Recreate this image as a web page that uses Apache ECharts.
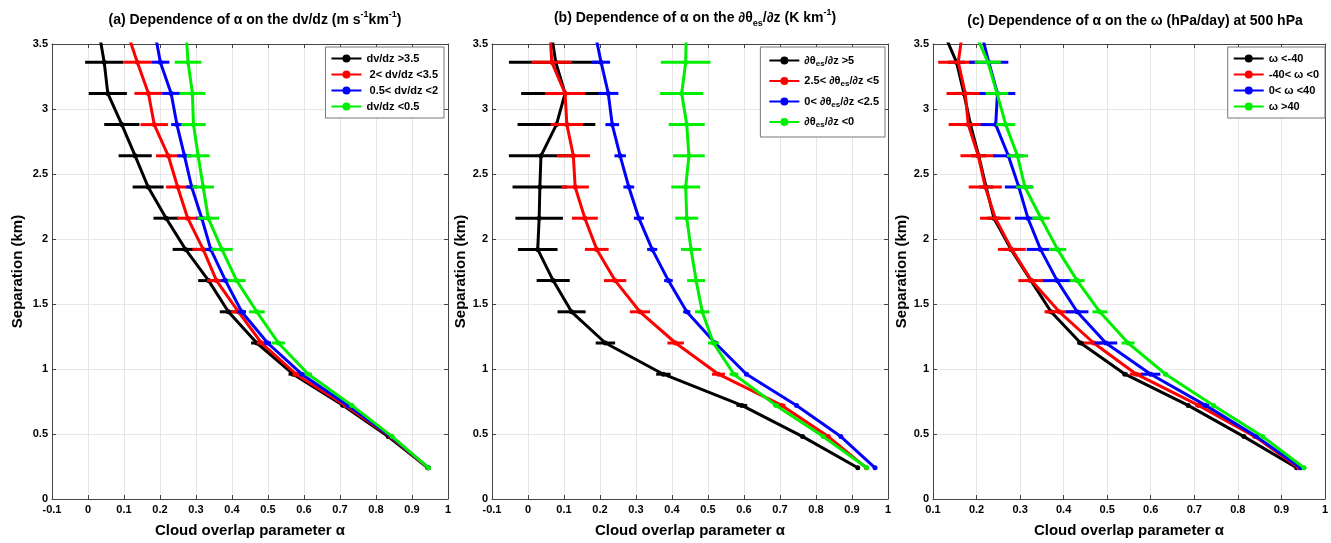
<!DOCTYPE html>
<html>
<head>
<meta charset="utf-8">
<script src="https://cdn.jsdelivr.net/npm/echarts@6/dist/echarts.min.js"></script>
<style>
html,body{margin:0;padding:0;background:#fff;}
#chart{width:1331px;height:543px;}
</style>
</head>
<body>
<div id="chart"></div>
<script>
// Separation levels (km); last level is above the plotted range (lines run off the top)
const levels = [0.24,0.48,0.72,0.96,1.2,1.44,1.68,1.92,2.16,2.4,2.64,2.88,3.12,3.36,3.6];

// Panel (a): dv/dz
const aNames = ['dv/dz >3.5',' 2< dv/dz <3.5',' 0.5< dv/dz <2','dv/dz <0.5'];
const aBlack = [0.944,0.834,0.709,0.570,0.469,0.390,0.335,0.271,0.217,0.167,0.131,0.094,0.055,0.045,0.030];
const aBlackErr = [0.003,0.005,0.008,0.013,0.016,0.024,0.029,0.036,0.035,0.043,0.046,0.049,0.053,0.053,0];
const aRed = [0.944,0.840,0.715,0.578,0.482,0.418,0.357,0.320,0.277,0.249,0.223,0.184,0.168,0.137,0.108];
const aRedErr = [0.003,0.004,0.006,0.010,0.013,0.020,0.026,0.030,0.030,0.032,0.034,0.038,0.039,0.039,0];
const aBlue = [0.946,0.842,0.722,0.594,0.499,0.427,0.382,0.341,0.316,0.288,0.268,0.247,0.231,0.201,0.185];
const aBlueErr = [0.002,0.003,0.005,0.008,0.010,0.012,0.014,0.015,0.015,0.015,0.020,0.016,0.025,0.025,0];
const aGreen = [0.946,0.845,0.733,0.612,0.529,0.469,0.413,0.372,0.334,0.320,0.306,0.293,0.290,0.278,0.272];
const aGreenErr = [0.002,0.004,0.006,0.010,0.018,0.022,0.025,0.030,0.030,0.030,0.032,0.034,0.036,0.037,0];

// Panel (b): d(theta_es)/dz
const bNames = ['∂θes/∂z >5','2.5< ∂θes/∂z <5','0< ∂θes/∂z <2.5','∂θes/∂z <0'];
const bBlack = [0.916,0.763,0.594,0.376,0.215,0.121,0.070,0.027,0.031,0.033,0.036,0.079,0.103,0.077,0.064];
const bBlackErr = [0.004,0.006,0.015,0.020,0.027,0.039,0.046,0.055,0.066,0.076,0.089,0.108,0.122,0.130,0];
const bRed = [0.940,0.834,0.705,0.529,0.410,0.311,0.242,0.191,0.158,0.131,0.126,0.108,0.103,0.066,0.061];
const bRedErr = [0.003,0.005,0.010,0.018,0.023,0.028,0.031,0.033,0.036,0.038,0.046,0.045,0.056,0.056,0];
const bBlue = [0.964,0.869,0.746,0.607,0.520,0.441,0.390,0.345,0.308,0.280,0.256,0.234,0.223,0.203,0.185];
const bBlueErr = [0.002,0.004,0.005,0.006,0.008,0.010,0.012,0.014,0.014,0.015,0.016,0.019,0.028,0.025,0];
const bGreen = [0.941,0.820,0.689,0.572,0.515,0.484,0.467,0.453,0.441,0.438,0.447,0.441,0.427,0.438,0.440];
const bGreenErr = [0.003,0.005,0.008,0.012,0.015,0.020,0.025,0.028,0.032,0.040,0.044,0.050,0.060,0.069,0];

// Panel (c): omega at 500 hPa
const cNames = ['ω <-40','-40< ω <0','0< ω <40','ω >40'];
const cBlack = [0.935,0.814,0.686,0.541,0.439,0.371,0.325,0.279,0.240,0.222,0.205,0.186,0.171,0.154,0.123];
const cBlackErr = [0.002,0.003,0.004,0.006,0.008,0.010,0.012,0.014,0.015,0.016,0.017,0.018,0.020,0.020,0];
const cRed = [0.940,0.839,0.710,0.567,0.469,0.390,0.326,0.281,0.243,0.220,0.204,0.181,0.174,0.158,0.168];
const cRedErr = [0.003,0.005,0.008,0.015,0.022,0.034,0.030,0.032,0.035,0.038,0.041,0.045,0.043,0.046,0];
const cBlue = [0.944,0.843,0.726,0.600,0.497,0.431,0.385,0.347,0.318,0.297,0.273,0.244,0.248,0.228,0.210];
const cBlueErr = [0.002,0.004,0.008,0.022,0.026,0.026,0.032,0.032,0.030,0.032,0.035,0.035,0.041,0.045,0];
const cGreen = [0.952,0.857,0.744,0.634,0.548,0.483,0.431,0.386,0.348,0.311,0.294,0.267,0.247,0.226,0.195];
const cGreenErr = [0.002,0.003,0.004,0.006,0.015,0.017,0.017,0.020,0.020,0.020,0.024,0.022,0.026,0.030,0];

// Axis settings
const xMins = [-0.1, -0.1, 0.1];
const xMax = 1, xStep = 0.1;
const yMin = 0, yMax = 3.5, yStep = 0.5;
const xName = 'Cloud overlap parameter α';
const yName = 'Separation (km)';

const colors = ['#000000', '#ff0000', '#0000ff', '#00ee00'];
const FONT = 'Liberation Sans, Arial, sans-serif';

const panels = [
  {names: aNames, vals: [aBlack, aRed, aBlue, aGreen], errs: [aBlackErr, aRedErr, aBlueErr, aGreenErr]},
  {names: bNames, vals: [bBlack, bRed, bBlue, bGreen], errs: [bBlackErr, bRedErr, bBlueErr, bGreenErr]},
  {names: cNames, vals: [cBlack, cRed, cBlue, cGreen], errs: [cBlackErr, cRedErr, cBlueErr, cGreenErr]}
];

const grids = [
  {left: 52, top: 44, width: 396, height: 464},
  {left: 492, top: 44, width: 396, height: 464},
  {left: 933, top: 44, width: 395, height: 464}
];
const yNameGaps = [27, 22, 20];

const axisLineStyle = {show: true, onZero: false, lineStyle: {color: '#444', width: 1}};
const tickStyle = {show: true, inside: true, length: 4, lineStyle: {color: '#444'}};

const xAxes = [], yAxes = [], series = [], legends = [];
grids.forEach((g, i) => {
  xAxes.push({
    type: 'value', gridIndex: i, min: xMins[i], max: xMax, interval: xStep,
    name: xName, nameLocation: 'middle', nameGap: 24,
    nameTextStyle: {fontFamily: FONT, fontWeight: 'bold', fontSize: 15, color: '#000'},
    axisLine: axisLineStyle, axisTick: tickStyle,
    axisLabel: {fontFamily: FONT, fontWeight: 'bold', fontSize: 11, color: '#000', margin: 5,
      formatter: v => String(Math.round(v * 10) / 10)},
    splitLine: {show: true, lineStyle: {color: '#e6e6e6', width: 1}}
  });
  xAxes.push({
    type: 'value', gridIndex: i, min: xMins[i], max: xMax, interval: xStep, position: 'top',
    axisLine: axisLineStyle, axisTick: tickStyle,
    axisLabel: {show: false}, splitLine: {show: false}
  });
  yAxes.push({
    type: 'value', gridIndex: i, min: yMin, max: yMax, interval: yStep,
    name: yName, nameLocation: 'middle', nameGap: yNameGaps[i],
    nameTextStyle: {fontFamily: FONT, fontWeight: 'bold', fontSize: 15, color: '#000'},
    axisLine: axisLineStyle, axisTick: tickStyle,
    axisLabel: {fontFamily: FONT, fontWeight: 'bold', fontSize: 11, color: '#000', margin: 4},
    splitLine: {show: true, lineStyle: {color: '#e6e6e6', width: 1}}
  });
  yAxes.push({
    type: 'value', gridIndex: i, min: yMin, max: yMax, interval: yStep, position: 'right',
    axisLine: axisLineStyle, axisTick: tickStyle,
    axisLabel: {show: false}, splitLine: {show: false}
  });

  const p = panels[i];
  p.names.forEach((name, k) => {
    const col = colors[k];
    series.push({
      type: 'custom', xAxisIndex: i * 2, yAxisIndex: i * 2, clip: true, silent: true,
      data: levels.map((lv, j) => [p.vals[k][j], lv, p.errs[k][j]]),
      renderItem: (params, api) => {
        const x = api.value(0), y = api.value(1), e = api.value(2);
        if (!e) return null;
        const p1 = api.coord([x - e, y]), p2 = api.coord([x + e, y]);
        return {type: 'line', shape: {x1: p1[0], y1: p1[1], x2: p2[0], y2: p2[1]},
          style: {stroke: col, lineWidth: 3}};
      },
      z: 2 + k
    });
    series.push({
      type: 'line', name: name, xAxisIndex: i * 2, yAxisIndex: i * 2,
      data: levels.map((lv, j) => [p.vals[k][j], lv]),
      symbol: 'circle', symbolSize: 5, clip: true,
      lineStyle: {color: col, width: 3}, itemStyle: {color: col},
      emphasis: {disabled: true}, animation: false,
      z: 2 + k
    });
  });
});

const legendCommon = {
  orient: 'vertical', backgroundColor: '#fff', borderColor: '#777', borderWidth: 1,
  padding: [6, 6, 6, 5], itemGap: 5, itemWidth: 30, itemHeight: 10,
  textStyle: {fontFamily: FONT, fontWeight: 'bold', fontSize: 11, color: '#000',
    rich: {
      b: {fontFamily: FONT, fontWeight: 'bold', fontSize: 11, color: '#000'},
      sub: {fontFamily: FONT, fontWeight: 'bold', fontSize: 8, color: '#000', verticalAlign: 'bottom', padding: [6, 0, 0, 0]}
    }
  }
};
legends.push(Object.assign({}, legendCommon, {right: 887, top: 47, data: aNames}));
legends.push(Object.assign({}, legendCommon, {right: 446, top: 47, itemGap: 8, padding: [8, 6, 8, 8], data: bNames,
  formatter: n => n.split('θes').map((t, idx) => idx === 0 ? '{b|' + t + 'θ}' : '{sub|es}{b|' + t + '}').join('')
}));
legends.push(Object.assign({}, legendCommon, {right: 6, top: 47, data: cNames}));

const titleRich = {
  t: {fontFamily: FONT, fontWeight: 'bold', fontSize: 14, color: '#000', lineHeight: 20},
  sup: {fontFamily: FONT, fontWeight: 'bold', fontSize: 9, color: '#000', verticalAlign: 'top', padding: [0, 0, 6, 0]},
  sub: {fontFamily: FONT, fontWeight: 'bold', fontSize: 9, color: '#000', verticalAlign: 'bottom', padding: [8, 0, 0, 0]}
};
const titles = [
  {text: '{t|(a) Dependence of α on the dv/dz (m s}{sup|-1}{t|km}{sup|-1}{t|)}', left: 250, top: 5},
  {text: '{t|(b) Dependence of α on the ∂θ}{sub|es}{t|/∂z (K km}{sup|-1}{t|)}', left: 690, top: 3},
  {text: '{t|(c) Dependence of α on the ω (hPa/day) at 500 hPa}', left: 1130, top: 6}
].map(t => ({text: t.text, left: t.left, top: t.top, textAlign: 'center',
  textStyle: {rich: titleRich, fontFamily: FONT, fontWeight: 'bold', fontSize: 14}}));

const chart = echarts.init(document.getElementById('chart'), null, {renderer: 'canvas'});
chart.setOption({
  animation: false,
  backgroundColor: '#fff',
  title: titles,
  grid: grids.map(g => Object.assign({containLabel: false}, g)),
  xAxis: xAxes,
  yAxis: yAxes,
  legend: legends,
  series: series
});
</script>
</body>
</html>
